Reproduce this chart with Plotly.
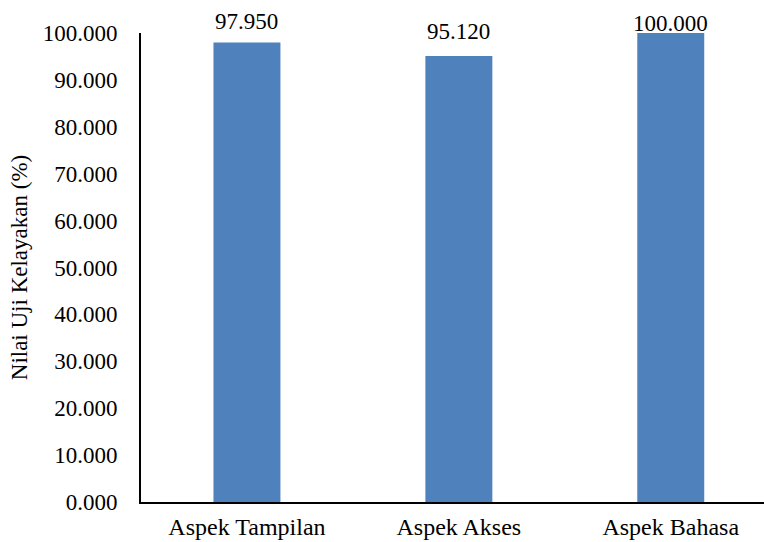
import plotly.graph_objects as go

categories = ["Aspek Tampilan", "Aspek Akses", "Aspek Bahasa"]
values = [97.95, 95.12, 100.0]
y_ticks = [0, 10, 20, 30, 40, 50, 60, 70, 80, 90, 100]

BAR_COLOR = "#4F81BD"
FONT = "Liberation Serif"

fig = go.Figure(
    go.Bar(
        x=categories,
        y=values,
        marker=dict(color=BAR_COLOR, line=dict(width=0)),
        width=0.316,
    )
)

# value labels above each bar (the last one is pulled down to stay inside the canvas)
label_shift = [7, 10, -5]
for cat, val, dy in zip(categories, values, label_shift):
    fig.add_annotation(
        x=cat, y=val, text=f"{val:.3f}", showarrow=False,
        yanchor="bottom", yshift=dy,
        font=dict(family=FONT, size=23, color="#000000"),
    )

fig.update_layout(
    width=764, height=542,
    margin=dict(l=141, r=0, t=33, b=40),
    paper_bgcolor="white", plot_bgcolor="white",
    showlegend=False,
    font=dict(family=FONT, size=23, color="#000000"),
)

fig.update_xaxes(
    type="category",
    range=[-0.5, 2.44],
    showline=True, linecolor="#000000", linewidth=2,
    showgrid=False, ticks="", zeroline=False,
    tickfont=dict(family=FONT, size=24, color="#000000"),
    ticklabelstandoff=2,
)

fig.update_yaxes(
    range=[0, 100],
    tickvals=y_ticks,
    ticktext=[f"{v:.3f}" for v in y_ticks],
    showline=True, linecolor="#000000", linewidth=2,
    showgrid=False, ticks="", zeroline=False,
    tickfont=dict(family=FONT, size=23, color="#000000"),
    ticklabelstandoff=17,
    title=dict(text="Nilai Uji Kelayakan (%)", font=dict(family=FONT, size=23, color="#000000"), standoff=9),
)

fig.write_html("out.html")
